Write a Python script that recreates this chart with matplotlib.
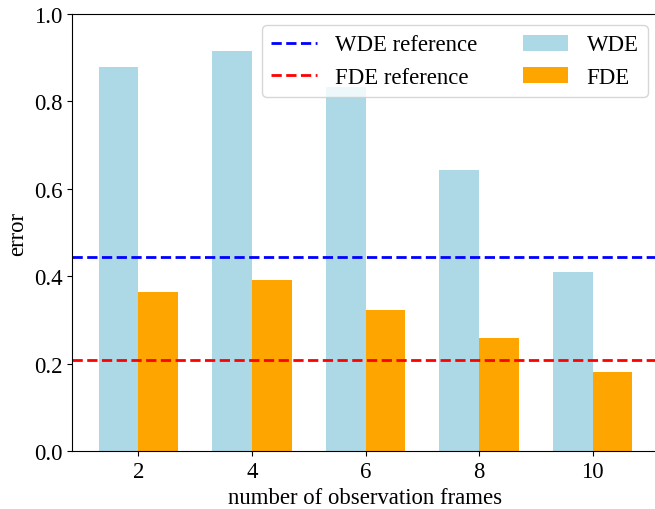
import matplotlib
matplotlib.use("Agg")
import matplotlib.pyplot as plt
import numpy as np

plt.rcParams['font.family'] = ['Liberation Serif', 'DejaVu Serif']
plt.rcParams['font.size'] = 16.4

frames = [2, 4, 6, 8, 10]
wde = [0.879, 0.916, 0.833, 0.643, 0.410]
fde = [0.364, 0.392, 0.323, 0.259, 0.181]
wde_ref = 0.444
fde_ref = 0.208

fig = plt.figure(figsize=(6.55, 5.1), dpi=100)
ax = fig.add_axes([72/655, 58/510, 587/655, 437/510])

x = np.array(frames)
ax.bar(x, wde, width=-0.7, align='edge', color='lightblue', label='WDE')
ax.bar(x, fde, width=0.7, align='edge', color='orange', label='FDE')
ax.axhline(wde_ref, color='blue', linestyle='--', linewidth=2, label='WDE reference')
ax.axhline(fde_ref, color='red', linestyle='--', linewidth=2, label='FDE reference')

ax.set_ylim(0, 1.0)
ax.set_xticks(frames)
ax.set_xlabel('number of observation frames')
ax.set_ylabel('error')

ax.legend(ncol=2, loc='upper right')

fig.savefig('out.png', dpi=100)
